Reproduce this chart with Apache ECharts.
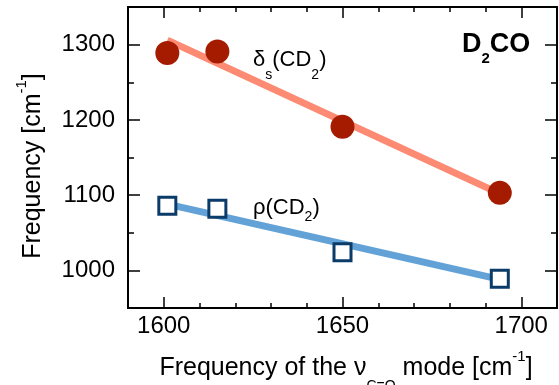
<!DOCTYPE html>
<html>
<head>
<meta charset="utf-8">
<script src="https://cdn.jsdelivr.net/npm/echarts@6/dist/echarts.min.js"></script>
<style>
  html, body { margin: 0; padding: 0; background: #ffffff; }
  #chart { width: 559px; height: 385px; }
</style>
</head>
<body>
<div id="chart"></div>
<script>
// C=O stretching frequency of each D2CO environment (cm-1)
const modeFreq = [1601, 1615, 1650, 1694];
// CD2 scissoring frequencies (cm-1)
const deltaS = [1289, 1291, 1191, 1103];
// CD2 rocking frequencies (cm-1)
const rho = [1086, 1082, 1024, 989];
// linear fits, end points
const deltaFitX = [1601, 1694];
const deltaFitY = [1306, 1102];
const rhoFitX = [1601, 1694];
const rhoFitY = [1088, 988];
// labelled ticks
const xTicks = [1600, 1650, 1700];
const yTicks = [1000, 1100, 1200, 1300];

const FONT = '"Liberation Sans", Arial, Helvetica, sans-serif';
const X_MIN = 1590, X_MAX = 1710, Y_MIN = 950, Y_MAX = 1350;

const chart = echarts.init(document.getElementById('chart'), null, { renderer: 'canvas' });

const pairs = (xs, ys) => xs.map((x, i) => [x, ys[i]]);
const plain = (v) => String(v);

const lineAxis = { show: true, lineStyle: { color: '#000', width: 2 } };

function xAxisDef(position, major, showLabel) {
  return {
    type: 'value', position: position, min: X_MIN, max: X_MAX,
    interval: major ? undefined : 10,
    axisLine: lineAxis,
    axisTick: major
      ? { show: true, inside: true, length: 11, lineStyle: { color: '#000', width: 1.5 }, customValues: xTicks }
      : { show: true, inside: true, length: 5, lineStyle: { color: '#000', width: 1.5 } },
    axisLabel: showLabel
      ? { show: true, customValues: xTicks, formatter: plain, margin: 6, color: '#000', fontSize: 24, fontFamily: FONT }
      : { show: false },
    splitLine: { show: false }
  };
}

function yAxisDef(position, major, showLabel) {
  return {
    type: 'value', position: position, min: Y_MIN, max: Y_MAX,
    interval: major ? undefined : 50,
    axisLine: lineAxis,
    axisTick: major
      ? { show: true, inside: true, length: 12, lineStyle: { color: '#000', width: 1.5 }, customValues: yTicks }
      : { show: true, inside: true, length: 6, lineStyle: { color: '#000', width: 1.5 } },
    axisLabel: showLabel
      ? { show: true, customValues: yTicks, formatter: plain, margin: 13, color: '#000', fontSize: 24, fontFamily: FONT }
      : { show: false },
    splitLine: { show: false }
  };
}

const option = {
  backgroundColor: '#ffffff',
  animation: false,
  grid: { left: 128, right: 2, top: 7, bottom: 77, containLabel: false },
  xAxis: [
    xAxisDef('bottom', true, true),
    xAxisDef('bottom', false, false),
    xAxisDef('top', true, false),
    xAxisDef('top', false, false)
  ],
  yAxis: [
    yAxisDef('left', true, true),
    yAxisDef('left', false, false),
    yAxisDef('right', true, false),
    yAxisDef('right', false, false)
  ],
  series: [
    {
      name: 'deltaFit', type: 'line', data: pairs(deltaFitX, deltaFitY),
      symbol: 'none', lineStyle: { color: '#fd8a72', width: 7, cap: 'butt' }, z: 2
    },
    {
      name: 'rhoFit', type: 'line', data: pairs(rhoFitX, rhoFitY),
      symbol: 'none', lineStyle: { color: '#62a2d6', width: 7, cap: 'butt' }, z: 2
    },
    {
      name: 'deltaS', type: 'scatter', data: pairs(modeFreq, deltaS),
      symbol: 'circle', symbolSize: 24,
      itemStyle: { color: '#a41b00', opacity: 1 }, z: 4
    },
    {
      name: 'rho', type: 'scatter', data: pairs(modeFreq, rho),
      symbol: 'rect', symbolSize: 17,
      itemStyle: { color: '#ffffff', borderColor: '#0b3b69', borderWidth: 3, opacity: 1 }, z: 4
    }
  ],
  graphic: [
    {
      type: 'text', left: 253, top: 49, z: 10,
      style: {
        text: '{m|δ}{s|s}{m|(CD}{s|2}{m|)}',
        fill: '#000',
        rich: {
          m: { fontSize: 22, fontFamily: FONT, lineHeight: 26, verticalAlign: 'top', fill: '#000' },
          s: { fontSize: 14, fontFamily: FONT, lineHeight: 14, padding: [19, 0, 0, 0], verticalAlign: 'top', fill: '#000' }
        }
      }
    },
    {
      type: 'text', left: 253, top: 197, z: 10,
      style: {
        text: '{m|ρ(CD}{s|2}{m|)}',
        fill: '#000',
        rich: {
          m: { fontSize: 22, fontFamily: FONT, lineHeight: 26, verticalAlign: 'top', fill: '#000' },
          s: { fontSize: 14, fontFamily: FONT, lineHeight: 14, padding: [13, 0, 0, 0], verticalAlign: 'top', fill: '#000' }
        }
      }
    },
    {
      type: 'text', left: 462, top: 31, z: 10,
      style: {
        text: '{m|D}{s|2}{m|CO}',
        fill: '#000',
        rich: {
          m: { fontSize: 27, fontWeight: 'bold', fontFamily: FONT, lineHeight: 30, verticalAlign: 'top', fill: '#000' },
          s: { fontSize: 15, fontWeight: 'bold', fontFamily: FONT, lineHeight: 15, padding: [20, 0, 0, 0], verticalAlign: 'top', fill: '#000' }
        }
      }
    },
    {
      type: 'text', x: 346, y: 349, z: 10,
      style: {
        text: '{m|Frequency of the ν}{s|C=O}{m| mode [cm}{p|-1}{m|]}',
        align: 'center', verticalAlign: 'top', fill: '#000',
        rich: {
          m: { fontSize: 25, fontFamily: FONT, lineHeight: 28, padding: [7, 0, 0, 0], verticalAlign: 'top', fill: '#000' },
          s: { fontSize: 14, fontFamily: FONT, lineHeight: 14, padding: [30, 0, 0, 0], verticalAlign: 'top', fill: '#000' },
          p: { fontSize: 15, fontFamily: FONT, lineHeight: 15, verticalAlign: 'top', fill: '#000' }
        }
      }
    },
    {
      type: 'text', x: 28, y: 166, rotation: Math.PI / 2, z: 10,
      style: {
        text: '{m|Frequency [cm}{p|-1}{m|]}',
        align: 'center', verticalAlign: 'middle', fill: '#000',
        rich: {
          m: { fontSize: 25, fontFamily: FONT, lineHeight: 28, padding: [7, 0, 0, 0], verticalAlign: 'top', fill: '#000' },
          p: { fontSize: 15, fontFamily: FONT, lineHeight: 15, verticalAlign: 'top', fill: '#000' }
        }
      }
    }
  ]
};

chart.setOption(option);
</script>
</body>
</html>
